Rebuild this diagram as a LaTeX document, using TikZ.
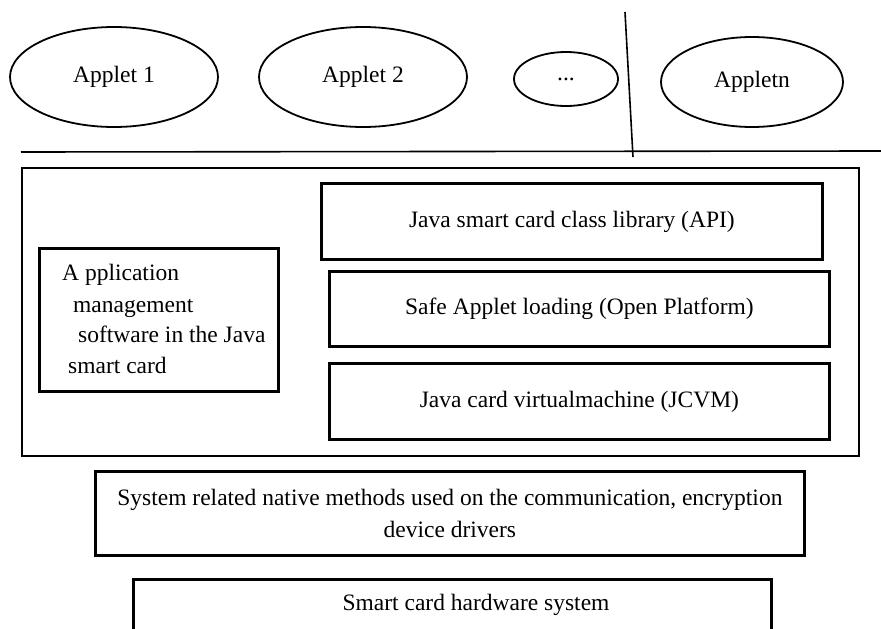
\documentclass[tikz,border=0pt]{standalone}
\usepackage{fontspec}
\setmainfont{Liberation Serif}
\usetikzlibrary{shapes.geometric}
\tikzset{
  txt/.style={font=\fontsize{23.5}{32}\selectfont, inner sep=0pt},
  applet/.style={ellipse, draw, line width=1.8pt, inner sep=0pt, txt},
  layerbox/.style={draw, line width=2.8pt, inner sep=0pt, anchor=north west, txt, align=center},
  outerbox/.style={draw, line width=2.2pt, inner sep=0pt, anchor=north west},
  sepline/.style={line width=1.6pt},
}
\begin{document}
\begin{tikzpicture}[x=1pt, y=-1pt]
\useasboundingbox (0,0) rectangle (881,629);
\clip (0,0) rectangle (881,629);
% applets
\node[applet, minimum width=208pt, minimum height=100pt] (a1) at (114,77) {Applet 1};
\node[applet, minimum width=208pt, minimum height=100pt] (a2) at (363,77) {Applet 2};
\node[applet, minimum width=104pt, minimum height=54pt] (a3) at (566,79) {...};
\node[applet, minimum width=182pt, minimum height=90pt] (an) at (752,82) {Appletn};
% separators
\coordinate (vtop) at (625,12);
\coordinate (vbot) at (633,157);
\coordinate (hl) at (21,152);
\coordinate (hr) at (881,151);
\draw[sepline] (vtop) -- (vbot);
\draw[sepline] (hl) -- (hr);
% outer JCRE box
\node[outerbox, minimum width=837pt, minimum height=288pt] (outer) at (21,167) {};
% application management box
\node[layerbox, minimum width=239pt, minimum height=143pt] (app) at (38,247) {};
\node[txt, anchor=base west] (appt1) at (62,280) {A pplication};
\node[txt, anchor=base west] (appt2) at (73,312) {management};
\node[txt, anchor=base west] (appt3) at (78,342) {software in the Java};
\node[txt, anchor=base west] (appt4) at (68,373) {smart card};
% right stack
\node[layerbox, minimum width=501pt, minimum height=76pt] (api) at (320,182) {Java smart card class library (API)};
\node[layerbox, minimum width=500pt, minimum height=75pt] (safe) at (328,270) {Safe Applet loading (Open Platform)};
\node[layerbox, minimum width=500pt, minimum height=76pt] (jcvm) at (328,362) {Java card virtualmachine (JCVM)};
% native methods
\node[layerbox, minimum width=709pt, minimum height=84pt] (sys) at (94,470) {System related native methods used on the communication, encryption\\device drivers};
% hardware
\node[layerbox, minimum width=638pt, minimum height=80pt] (hw) at (132,578) {};
\node[txt, anchor=base] (hwt) at (476,610) {Smart card hardware system};
\end{tikzpicture}
\end{document}
